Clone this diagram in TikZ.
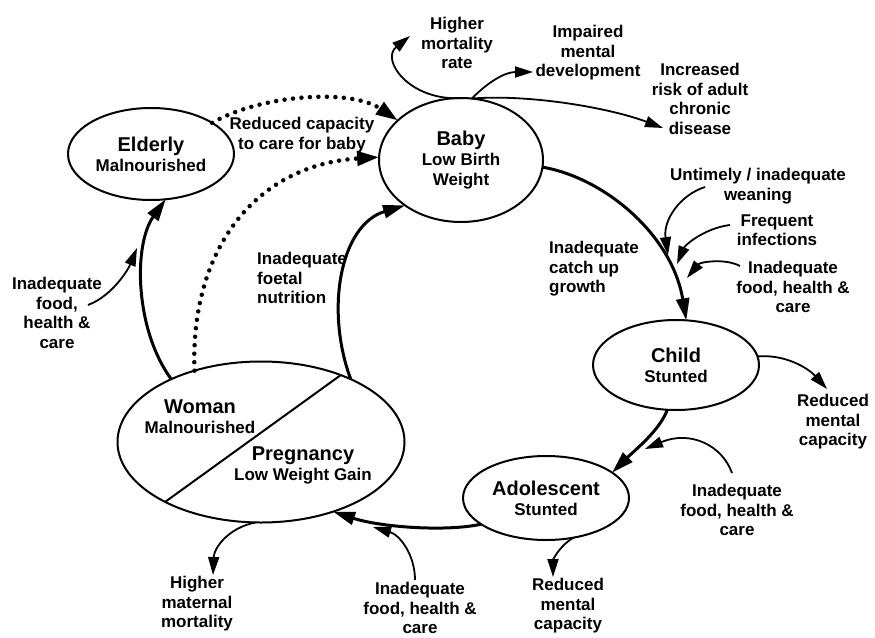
\documentclass[tikz,border=0pt]{standalone}
\usepackage{fontspec}
\setmainfont{Liberation Sans}
\usetikzlibrary{shapes.geometric,arrows.meta}
\newcommand\nodetitle{\fontsize{20}{20}\selectfont}
\begin{document}
\begin{tikzpicture}[x=1pt,y=-1pt,
  ell/.style={ellipse, draw, line width=2pt, inner sep=0pt, outer sep=0pt, align=center,
              font=\bfseries\fontsize{17}{20}\selectfont},
  lbl/.style={font=\bfseries\fontsize{17}{19.5}\selectfont, align=center, inner sep=0pt},
  main/.style={line width=3pt, -{Triangle[length=22pt,width=13pt]}},
  side/.style={line width=1.8pt, -{Triangle[length=18pt,width=11pt]}},
  dots/.style={line width=4.5pt, line cap=round, dash pattern=on 0pt off 8.5pt,
               -{Triangle[length=22pt,width=14pt]}},
  txt/.style={align=center, inner sep=0pt}
]
\fill[white] (0,0) rectangle (875,637);
\useasboundingbox (0,0) rectangle (875,637);

% ellipses
\node[ell, minimum width=166pt, minimum height=92pt] (elderly) at (151,154)
  {{\nodetitle Elderly}\\Malnourished};
\node[ell, minimum width=164pt, minimum height=124pt] (baby) at (461,160)
  {{\nodetitle Baby}\\Low Birth\\Weight};
\node[ell, minimum width=166pt, minimum height=90pt] (child) at (676,365)
  {{\nodetitle Child}\\Stunted};
\node[ell, minimum width=166pt, minimum height=84pt] (adol) at (546,498)
  {{\nodetitle Adolescent}\\Stunted};
\node[ellipse, draw, line width=2pt, inner sep=0pt, outer sep=0pt,
      minimum width=287pt, minimum height=161pt] (woman) at (261,442) {};
\draw[line width=2pt] (woman.212) -- (woman.40.5);
\node[txt, font=\bfseries\fontsize{17}{20}\selectfont] (womantxt) at (200,417)
  {{\nodetitle Woman}\\Malnourished};
\node[txt, font=\bfseries\fontsize{17}{20}\selectfont] (pregtxt) at (303,465)
  {{\nodetitle Pregnancy}\\Low Weight Gain};

% labels
\node[lbl] (rc) at (302,135) {Reduced capacity\\to care for baby};
\node[lbl] (hm) at (457,43) {Higher\\mortality\\rate};
\node[lbl] (imd) at (588,53) {Impaired\\mental\\development};
\node[lbl] (irc) at (700,99) {Increased\\risk of adult\\chronic\\disease};
\node[lbl] (uw) at (758,186) {Untimely / inadequate\\weaning};
\node[lbl] (fi) at (777,230) {Frequent\\infections};
\node[lbl] (ifr) at (793,287) {Inadequate\\food, health \&\\care};
\node[lbl, align=left, anchor=west] (icg) at (549,269) {Inadequate\\catch up\\growth};
\node[lbl, align=left, anchor=west] (ifn) at (257,278) {Inadequate\\foetal\\nutrition};
\node[lbl] (ifl) at (57,313) {Inadequate\\food,\\health \&\\care};
\node[lbl] (rmc1) at (833,422) {Reduced\\mental\\capacity};
\node[lbl] (ifa) at (737,510) {Inadequate\\food, health \&\\care};
\node[lbl] (rmc2) at (568,606) {Reduced\\mental\\capacity};
\node[lbl] (hmm) at (197,604) {Higher\\maternal\\mortality};
\node[lbl] (ifb) at (420,608) {Inadequate\\food, health \&\\care};

% free ends
\coordinate (hmT) at (410,36);
\coordinate (imdT) at (533,72);
\coordinate (ircT) at (663,128);
\coordinate (uwS) at (705,187);
\coordinate (uwT) at (668,255);
\coordinate (fiS) at (730,225);
\coordinate (fiT) at (677,264);
\coordinate (ifrS) at (740,266);
\coordinate (ifrT) at (687,278);
\coordinate (ifaS) at (732,473);
\coordinate (ifaT) at (645,449);
\coordinate (ifbS) at (415,580);
\coordinate (ifbT) at (373,527);
\coordinate (iflS) at (88,305);
\coordinate (iflT) at (137,248);
\coordinate (rmc1T) at (827,389);
\coordinate (rmc2T) at (553,577);
\coordinate (hmmT) at (213,575);

% main cycle
\draw[main] (baby.-5) .. controls (605,178) and (672,235) .. (child.77);
\draw[main] (child.259) .. controls (660,430) and (635,450) .. (adol.21);
\draw[main] (adol.202) .. controls (445,532) and (380,527) .. (woman.-44.6);
\draw[main] (woman.35.7) .. controls (325,310) and (340,225) .. (baby.219);
\draw[main] (woman.145.7) .. controls (135,330) and (133,245) .. (elderly.-72.5);

% dotted
\draw[dots] (woman.133) .. controls (190,250) and (255,165) .. (baby.178);
\draw[dots] (elderly.27) .. controls (260,95) and (350,88) .. (baby.148);

% outward arrows
\draw[side] (baby.88) .. controls (410,102) and (380,60) .. (hmT);
\draw[side] (baby.80) .. controls (488,82) and (505,72) .. (imdT);
\draw[side] (baby.80) .. controls (530,94) and (610,108) .. (ircT);
\draw[side] (child.6) .. controls (785,354) and (808,368) .. (rmc1T);
\draw[side] (adol.-55) .. controls (560,545) and (553,560) .. (rmc2T);
\draw[side] (woman.-94) .. controls (228,528) and (214,548) .. (hmmT);

% inward side arrows
\draw[side] (uwS) .. controls (680,195) and (663,220) .. (uwT);
\draw[side] (fiS) .. controls (705,228) and (685,245) .. (fiT);
\draw[side] (ifrS) .. controls (725,258) and (700,262) .. (ifrT);
\draw[side] (ifaS) .. controls (722,445) and (690,430) .. (ifaT);
\draw[side] (ifbS) .. controls (415,555) and (400,535) .. (ifbT);
\draw[side] (iflS) .. controls (112,296) and (128,270) .. (iflT);
\end{tikzpicture}
\end{document}
